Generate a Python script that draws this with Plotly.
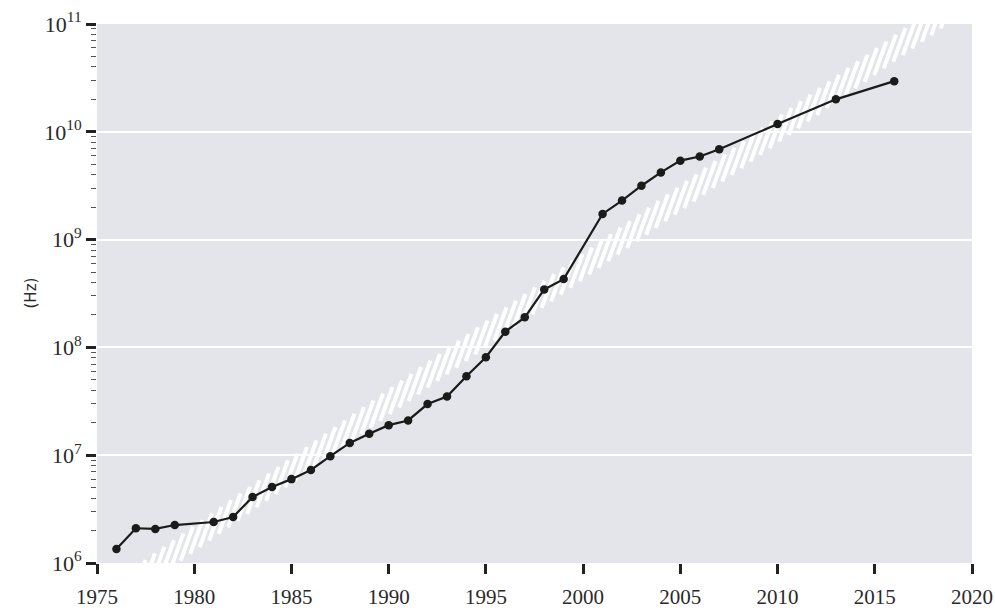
import math
import plotly.graph_objects as go

# Clock frequency by year (Hz)
years = [1976, 1977, 1978, 1979, 1981, 1982, 1983, 1984, 1985, 1986, 1987, 1988,
         1989, 1990, 1991, 1992, 1993, 1994, 1995, 1996, 1997, 1998, 1999, 2001,
         2002, 2003, 2004, 2005, 2006, 2007, 2010, 2013, 2016]
freq_hz = [1.35e6, 2.1e6, 2.07e6, 2.25e6, 2.4e6, 2.67e6, 4.1e6, 5.07e6, 6.0e6,
           7.3e6, 9.8e6, 1.3e7, 1.58e7, 1.9e7, 2.1e7, 2.98e7, 3.5e7, 5.4e7,
           8.1e7, 1.4e8, 1.9e8, 3.45e8, 4.3e8, 1.73e9, 2.3e9, 3.16e9, 4.2e9,
           5.4e9, 5.9e9, 6.9e9, 1.18e10, 2.0e10, 2.95e10]

# Exponential trend shown as a hatched band
trend_years = [1978.2, 2017.8]
trend_hz = [1e6, 1e11]

x_ticks = [1975, 1980, 1985, 1990, 1995, 2000, 2005, 2010, 2015, 2020]
y_exponents = [6, 7, 8, 9, 10, 11]
y_ticks = [10 ** e for e in y_exponents]
y_ticktext = ["10<sup>%d</sup>" % e for e in y_exponents]
y_minor = [m * 10 ** e for e in y_exponents[:-1] for m in range(2, 10)]

W, H = 995, 610
M = dict(l=97, r=23, t=24, b=47)
plot_w = W - M["l"] - M["r"]
plot_h = H - M["t"] - M["b"]
px_per_year = plot_w / 45.0
px_per_dec = plot_h / 5.0

# Hatch stripes along the trend line (sizes in screen pixels)
lt0, lt1 = math.log10(trend_hz[0]), math.log10(trend_hz[1])
slope = (lt1 - lt0) / (trend_years[1] - trend_years[0])
stripe_len = 36.0
stripe_ang = math.radians(70)
spacing_yr = 9.5 / px_per_year
hx = stripe_len * math.cos(stripe_ang) / px_per_year / 2
hy = stripe_len * math.sin(stripe_ang) / px_per_dec / 2
sx, sy = [], []
t = trend_years[0] - 2.0
while t < trend_years[1] + 2.0:
    lc = lt0 + (t - trend_years[0]) * slope
    sx += [t - hx, t + hx, None]
    sy += [10 ** (lc - hy), 10 ** (lc + hy), None]
    t += spacing_yr

fig = go.Figure()
fig.add_trace(go.Scatter(
    x=sx, y=sy, mode="lines",
    line=dict(color="white", width=4),
    hoverinfo="skip", showlegend=False,
))
fig.add_trace(go.Scatter(
    x=years, y=freq_hz, mode="lines+markers",
    line=dict(color="#1b1b1b", width=2.2),
    marker=dict(color="#1b1b1b", size=8.5),
    showlegend=False,
))

serif = "Liberation Serif, DejaVu Serif, serif"
fig.update_layout(
    width=W, height=H,
    margin=M,
    paper_bgcolor="white",
    plot_bgcolor="#e4e5ea",
    font=dict(family=serif, color="#2a2a2a"),
    annotations=[dict(
        text="(Hz)", xref="paper", yref="paper", x=0, y=0.5,
        xshift=-78, textangle=-90, showarrow=False,
        font=dict(family="DejaVu Sans, sans-serif", size=15, color="#2a2a2a"),
    )],
)
fig.update_xaxes(
    range=[1975, 2020], automargin=False,
    tickmode="array", tickvals=x_ticks,
    ticks="outside", ticklen=10, tickwidth=2.5, tickcolor="#222",
    ticklabelstandoff=5,
    showgrid=False, zeroline=False, showline=False,
    tickfont=dict(family=serif, size=21, color="#2a2a2a"),
)
fig.update_yaxes(
    type="log", range=[6, 11], automargin=False,
    tickmode="array", tickvals=y_ticks, ticktext=y_ticktext,
    ticks="outside", ticklen=10, tickwidth=2.5, tickcolor="#222",
    showgrid=True, gridcolor="white", gridwidth=1.5,
    zeroline=False, showline=False,
    tickfont=dict(family=serif, size=22, color="#2a2a2a"),
    minor=dict(tickmode="array", tickvals=y_minor, ticks="outside",
               ticklen=5, tickwidth=1, tickcolor="#555", showgrid=False),
)

fig.write_html("out.html")
